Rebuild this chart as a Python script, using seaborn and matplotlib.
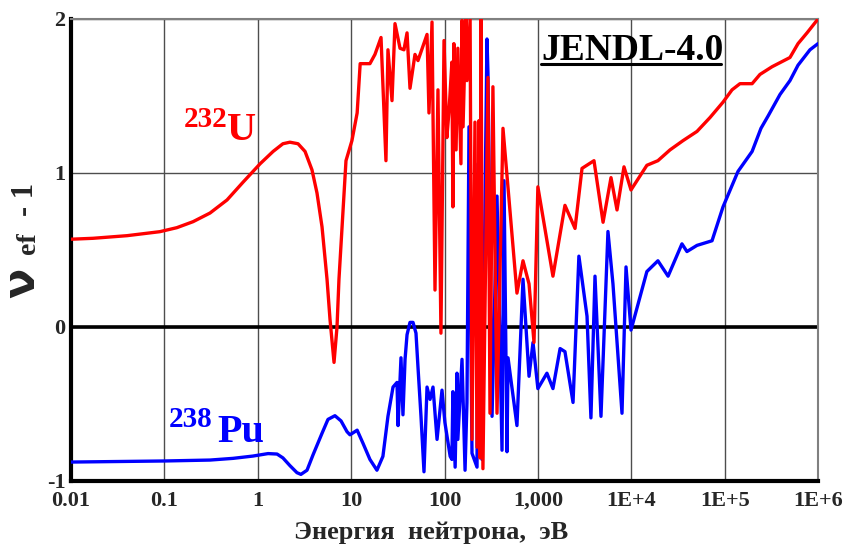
import matplotlib
matplotlib.use("Agg")
import matplotlib.pyplot as plt
from matplotlib.ticker import NullLocator
import pandas as pd
import seaborn as sns

# ---- data (energy in eV, nu_ef - 1) ----
energy_u232 = [0.01, 0.0172, 0.0398, 0.0895, 0.136, 0.203, 0.308, 0.469, 0.695, 1.06, 1.46,
               1.86, 2.21, 2.70, 3.21, 3.81, 4.31, 4.88, 5.52, 5.94, 6.56, 7.06, 7.41, 8.81,
               10.2, 11.6, 12.5, 15.9, 18.0, 20.9, 23.6, 24.8, 27.4, 29.5, 33.4, 36.8, 39.7,
               42.7, 48.3, 52.0, 65.0, 68.2, 73.5, 75.3, 79.1, 85.1, 91.6, 98.8, 106, 112, 120,
               123, 126, 133, 139, 150, 154, 158, 170, 174, 188, 197, 212, 223, 234, 240, 246,
               258, 292, 307, 330, 365, 423, 597, 693, 804, 909, 1000, 1450, 1950, 2500, 2970,
               3990, 4990, 6070, 7040, 8360, 9940, 14700, 19300, 26000, 35800, 50600, 69700,
               96100, 120000, 146000, 197000, 239000, 322000, 501000, 611000, 763000, 1000000]
nu_u232 = [0.57, 0.576, 0.593, 0.619, 0.645, 0.684, 0.74, 0.825, 0.94, 1.06, 1.14, 1.19,
           1.20, 1.19, 1.14, 1.02, 0.87, 0.65, 0.31, 0.05, -0.23, 0.0, 0.31, 1.08, 1.21, 1.39,
           1.71, 1.71, 1.77, 1.88, 1.08, 1.80, 1.47, 1.97, 1.81, 1.80, 1.91, 1.55, 1.77, 1.73,
           1.90, 1.39, 1.98, 1.39, 0.24, 1.54, -0.04, 1.86, 1.23, 1.41, 1.72, 0.78, 1.84, 1.15,
           1.81, 1.06, 1.99, 1.30, 2.04, 1.60, 2.00, -0.73, 1.33, -0.78, 1.34, -0.85, 2.00,
           -0.92, 1.62, -0.56, 1.56, -0.56, 1.29, 0.22, 0.43, 0.28, -0.10, 0.91, 0.33, 0.79,
           0.64, 1.03, 1.08, 0.68, 0.97, 0.76, 1.04, 0.89, 1.05, 1.08, 1.15, 1.21, 1.27, 1.36,
           1.46, 1.54, 1.58, 1.58, 1.64, 1.69, 1.75, 1.84, 1.91, 2.00]

energy_pu238 = [0.01, 0.1, 0.308, 0.543, 0.889, 1.29, 1.61, 1.86, 2.21, 2.63, 2.90, 3.37,
                3.91, 4.88, 5.65, 6.71, 7.80, 9.04, 9.72, 11.6, 13.4, 15.9, 18.9, 21.9, 24.8,
                28.1, 31.0, 31.8, 34.2, 35.9, 37.8, 39.7, 42.7, 46.0, 49.5, 52.0, 56.0, 60.3,
                65.0, 70.0, 75.3, 83.2, 94.0, 101, 115, 120, 123, 130, 136, 139, 154, 166, 174,
                183, 197, 223, 229, 252, 285, 292, 323, 365, 413, 434, 467, 479, 597, 693, 804,
                887, 1000, 1250, 1450, 1730, 1950, 2380, 2750, 3360, 3700, 4090, 4740, 5630,
                6370, 7960, 8790, 9940, 14700, 19300, 24800, 34900, 39500, 50600, 73300, 96100,
                139000, 197000, 245000, 292000, 392000, 501000, 611000, 820000, 1000000]
nu_pu238 = [-0.877, -0.87, -0.864, -0.853, -0.838, -0.822, -0.825, -0.85, -0.90, -0.946,
            -0.957, -0.93, -0.83, -0.69, -0.60, -0.576, -0.61, -0.68, -0.70, -0.67, -0.755,
            -0.86, -0.93, -0.84, -0.58, -0.39, -0.36, -0.64, -0.20, -0.57, -0.21, -0.05, 0.03,
            0.03, -0.04, -0.26, -0.58, -0.94, -0.39, -0.47, -0.39, -0.73, -0.41, -0.62, -0.84,
            -0.86, -0.42, -0.91, -0.30, -0.73, -0.21, -0.93, -0.49, 1.30, -0.82, -0.91, 1.06,
            -0.86, 1.87, 1.65, -0.58, 0.85, -0.80, 0.95, -0.81, -0.20, -0.64, 0.31, -0.32,
            -0.10, -0.40, -0.30, -0.40, -0.14, -0.16, -0.49, 0.46, 0.07, -0.59, 0.33, -0.58,
            0.62, 0.28, -0.56, 0.39, -0.02, 0.36, 0.43, 0.33, 0.54, 0.49, 0.53, 0.56, 0.78,
            1.01, 1.14, 1.29, 1.37, 1.51, 1.60, 1.70, 1.80, 1.84]

x_ticks = [0.01, 0.1, 1, 10, 100, 1000, 1e4, 1e5, 1e6]
x_tick_labels = ["0.01", "0.1", "1", "10", "100", "1,000", "1E+4", "1E+5", "1E+6"]
y_ticks = [-1, 0, 1, 2]
y_tick_labels = ["-1", "0", "1", "2"]

sns.set_style("white")
plt.rcParams['font.family'] = ['Liberation Serif', 'DejaVu Serif']
plt.rcParams['font.weight'] = 'bold'

W, H = 846, 549
fig = plt.figure(figsize=(W / 100, H / 100), dpi=100)
ax = fig.add_axes([71 / W, 1 - 481 / H, (818 - 71) / W, (481 - 19) / H])

df_pu = pd.DataFrame({"E": energy_pu238, "v": nu_pu238})
df_u = pd.DataFrame({"E": energy_u232, "v": nu_u232})
sns.lineplot(data=df_pu, x="E", y="v", ax=ax, color="#0000ff", lw=2.4,
             estimator=None, sort=False, zorder=3)
sns.lineplot(data=df_u, x="E", y="v", ax=ax, color="#ff0000", lw=2.4,
             estimator=None, sort=False, zorder=4)

ax.set_xscale("log")
ax.set_xlim(0.01, 1e6)
ax.set_ylim(-1, 2)
ax.set_xticks(x_ticks)
ax.set_xticklabels(x_tick_labels)
ax.xaxis.set_minor_locator(NullLocator())
ax.set_yticks(y_ticks)
ax.set_yticklabels(y_tick_labels)
ax.grid(True, color="#4d4d4d", lw=1.0, zorder=1)
ax.axhline(0, color="black", lw=2.6, zorder=2)
ax.tick_params(axis="y", length=0, labelsize=16, pad=4)
ax.tick_params(axis="x", length=0, labelsize=16, pad=7)
for lab in ax.get_xticklabels() + ax.get_yticklabels():
    lab.set_fontweight("bold")
ax.set_xlabel("")
ax.set_ylabel("")

for s in ["left", "bottom"]:
    ax.spines[s].set_color("black")
    ax.spines[s].set_linewidth(3)
for s in ["top", "right"]:
    ax.spines[s].set_color("#808080")
    ax.spines[s].set_linewidth(1.5)

# x label
fig.text(431 / W, 1 - 533 / H, "Энергия  нейтрона,  эВ", ha="center", va="center",
         fontsize=19, fontweight="bold")

# y label: nu_ef - 1 (rotated)
fig.text(34 / W, 1 - 298 / H, "ν", rotation=90, rotation_mode="anchor",
         ha="left", va="baseline", fontsize=32, fontweight="bold",
         family=["DejaVu Sans"])
fig.text(35 / W, 1 - 254 / H, "ef", rotation=90, rotation_mode="anchor",
         ha="left", va="baseline", fontsize=20, fontweight="bold")
fig.text(33 / W, 1 - 216 / H, "- 1", rotation=90, rotation_mode="anchor",
         ha="left", va="baseline", fontsize=22, fontweight="bold")

# series labels
fig.text(184 / W, 1 - 127 / H, "232", color="#ff0000", fontsize=21, fontweight="bold",
         ha="left", va="baseline")
fig.text(227 / W, 1 - 140 / H, "U", color="#ff0000", fontsize=29, fontweight="bold",
         ha="left", va="baseline")
fig.text(169 / W, 1 - 427 / H, "238", color="#0000ff", fontsize=21, fontweight="bold",
         ha="left", va="baseline")
fig.text(217 / W, 1 - 442 / H, "Pu", color="#0000ff", fontsize=29, fontweight="bold",
         ha="left", va="baseline")

# JENDL-4.0 label, underlined
fig.text(541 / W, 1 - 60 / H, "JENDL-4.0", color="black", fontsize=27, fontweight="bold",
         ha="left", va="baseline")
fig.add_artist(plt.Line2D([541 / W, 721 / W], [1 - 64 / H, 1 - 64 / H],
                          color="black", lw=2.2, transform=fig.transFigure))

fig.savefig("out.png", dpi=100)
